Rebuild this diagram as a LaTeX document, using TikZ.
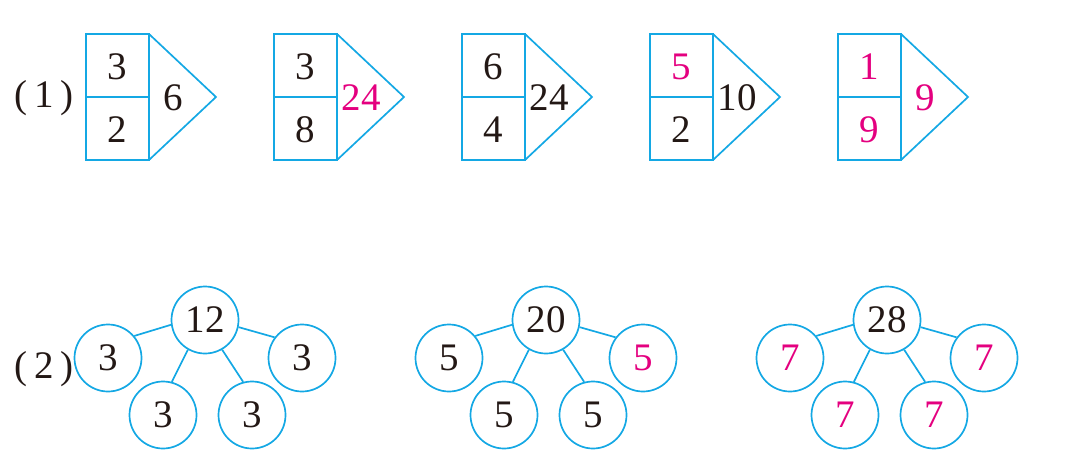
\documentclass[tikz,border=0pt]{standalone}
\usepackage{fontspec}
\setmainfont{Liberation Serif}
\usepackage{xcolor}
\usepackage{tikz}
\usetikzlibrary{positioning}

\definecolor{lineblue}{RGB}{20,168,228}
\definecolor{ansred}{RGB}{228,0,127}
\definecolor{numblack}{RGB}{35,24,21}

\begin{document}
\begin{tikzpicture}[x=1pt,y=-1pt,
  box/.style={draw=lineblue,line width=1.7pt},
  num/.style={inner sep=0pt,text=numblack,font=\fontsize{39}{39}\selectfont},
  ball/.style={num,circle,draw=lineblue,line width=1.7pt,minimum size=67pt},
  link/.style={draw=lineblue,line width=1.7pt}]
\useasboundingbox (0,0) rectangle (1081,463);
% Part (1): number pentagons
\node[num] (lab1) at (44,98) {(\,1\,)};
\foreach \i/\ta/\ca/\tb/\cb/\tc/\cc [evaluate=\i as \x using 86+(\i-1)*188] in
    {1/3/numblack/2/numblack/6/numblack,
     2/3/numblack/8/numblack/24/ansred,
     3/6/numblack/4/numblack/24/numblack,
     4/5/ansred/2/numblack/10/numblack,
     5/1/ansred/9/ansred/9/ansred} {
    \draw[box] (\x,34) rectangle (\x+63,160);
    \draw[box] (\x,97) -- (\x+63,97);
    \draw[box] (\x+63,34) -- (\x+130,97) -- (\x+63,160);
    \node[num,text=\ca] (up\i) at (\x+31.5,67) {\ta};
    \node[num,text=\cb] (down\i) at (\x+31.5,130) {\tb};
    \node[num,text=\cc] (sum\i) at (\x+87,98) {\tc};
}
% Part (2): number trees
\node[num] (lab2) at (44,369) {(\,2\,)};
\foreach \j/\whole/\part/\lc/\rc [evaluate=\j as \x using 205+(\j-1)*341] in
    {1/12/3/numblack/numblack,
     2/20/5/numblack/ansred,
     3/28/7/ansred/ansred} {
    \node[ball] (whole\j) at (\x,320) {\whole};
    \node[ball,text=\lc] (left\j) at (\x-97,358) {\part};
    \node[ball,text=\rc] (right\j) at (\x+97,358) {\part};
    \node[ball,text=\lc] (botl\j) at (\x-42,415) {\part};
    \node[ball,text=\lc] (botr\j) at (\x+47,415) {\part};
    \draw[link] (whole\j.188) -- (left\j.40);
    \draw[link] (whole\j.-12) -- (right\j.143);
    \draw[link] (whole\j.240) -- (botl\j.75);
    \draw[link] (whole\j.-60) -- (botr\j.105);
}
\end{tikzpicture}
\end{document}
